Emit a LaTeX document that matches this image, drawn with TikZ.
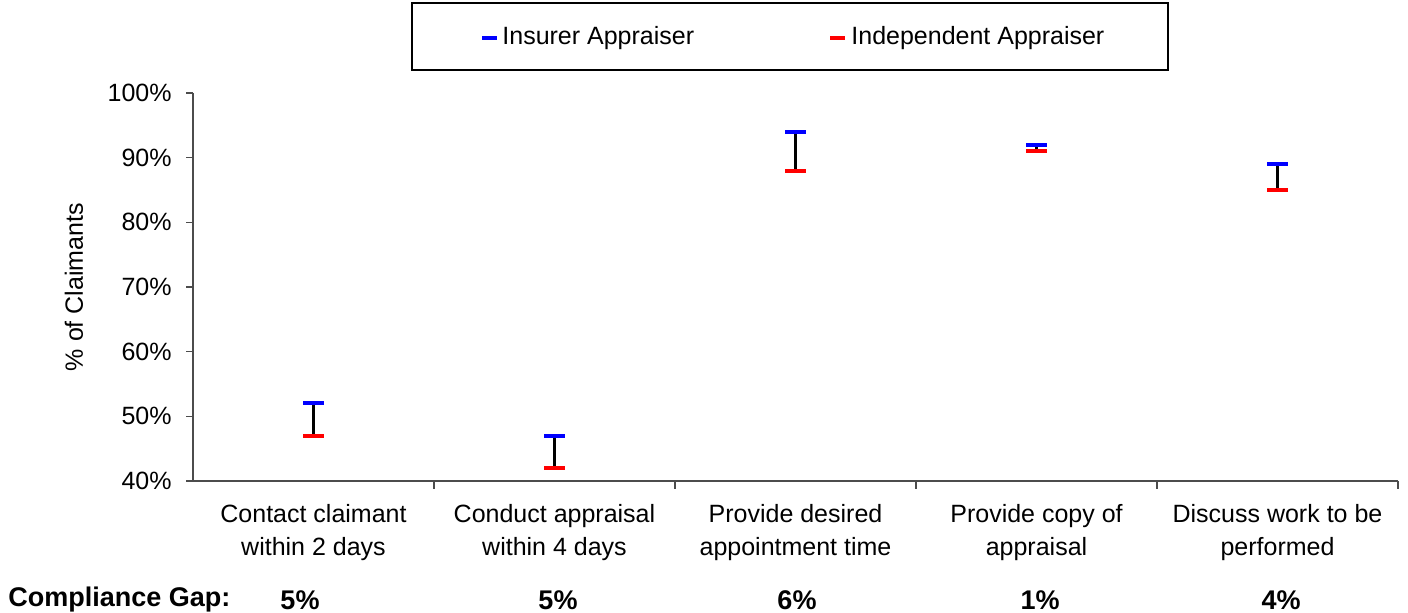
\documentclass[tikz,border=0pt]{standalone}
\usepackage{fontspec}
\setmainfont{Liberation Sans}
\usetikzlibrary{positioning}

\begin{document}
\begin{tikzpicture}[x=0.5pt, y=-0.5pt,
    axisline/.style={draw=black!70, line width=0.6pt},
    gapbar/.style={black, line width=1.5pt},
    insurer/.style={blue, line width=2pt},
    independent/.style={red, line width=2pt},
    ticklabel/.style={font=\fontsize{12.5}{15}\selectfont, anchor=east, inner sep=0pt},
    catlabel/.style={font=\fontsize{12.5}{16.5}\selectfont, align=center, inner sep=0pt},
    gaplabel/.style={font=\bfseries\fontsize{13.5}{15}\selectfont, inner sep=0pt}]

    % Fix the picture size
    \useasboundingbox (0,0) rectangle (1408,613);

    % Legend box
    \node[draw=black, line width=0.6pt, minimum width=378pt, minimum height=33.5pt, inner sep=0pt] (legend) at (790,36.5) {};
    \coordinate (insmark) at (482,38);
    \coordinate (indmark) at (830,38);
    \draw[insurer] (insmark) -- ++(15,0);
    \draw[independent] (indmark) -- ++(15,0);
    \node[anchor=west, inner sep=0pt, font=\fontsize{12.5}{15}\selectfont] (inslabel) at (502,38) {Insurer Appraiser};
    \node[anchor=west, inner sep=0pt, font=\fontsize{12.5}{15}\selectfont] (indlabel) at (851,38) {Independent Appraiser};

    % Axes
    \coordinate (origin) at (193,481);
    \coordinate (ytop) at (193,93);
    \coordinate (xend) at (1398,481);
    \draw[axisline] (ytop) -- (origin) -- (xend);

    % Y ticks and labels
    \foreach \v in {40,50,...,100} {
        \coordinate (ytick\v) at (193,{481-(\v-40)*6.467});
        \draw[axisline] (ytick\v) -- ++(-7,0);
        \node[ticklabel] (ylab\v) at (172,{481-(\v-40)*6.467}) {\v\%};
    }
    \node[rotate=90, font=\fontsize{12.5}{15}\selectfont, inner sep=0pt] (ytitle) at (74,287) {\% of Claimants};

    % X ticks between categories
    \foreach \i in {1,...,5}
        \draw[axisline] ({193+\i*241},481) -- ++(0,8);

    % Error bars: insurer (top) vs independent (bottom)
    \foreach \i/\ins/\ind in {1/52/47, 2/47/42, 3/94/88, 4/92/91, 5/89/85} {
        \coordinate (ins\i) at ({72.5+\i*241},{481-(\ins-40)*6.467});
        \coordinate (ind\i) at ({72.5+\i*241},{481-(\ind-40)*6.467});
        \draw[gapbar] (ins\i) -- (ind\i);
        \draw[insurer] ([xshift=-10.5*0.5pt]ins\i) -- ([xshift=10.5*0.5pt]ins\i);
        \draw[independent] ([xshift=-10.5*0.5pt]ind\i) -- ([xshift=10.5*0.5pt]ind\i);
    }

    % Category labels
    \node[catlabel] (cat1) at (313.5,533) {Contact claimant\\within 2 days};
    \node[catlabel] (cat2) at (554.5,533) {Conduct appraisal\\within 4 days};
    \node[catlabel] (cat3) at (795.5,533) {Provide desired\\appointment time};
    \node[catlabel] (cat4) at (1036.5,533) {Provide copy of\\appraisal};
    \node[catlabel] (cat5) at (1277.5,533) {Discuss work to be\\performed};

    % Compliance gap row
    \node[gaplabel, anchor=west] (gaptitle) at (8,600) {Compliance Gap:};
    \foreach \i/\x/\g in {1/300/5, 2/558/5, 3/797/6, 4/1040/1, 5/1281/4}
        \node[gaplabel] (gap\i) at (\x,600) {\g\%};

\end{tikzpicture}
\end{document}
